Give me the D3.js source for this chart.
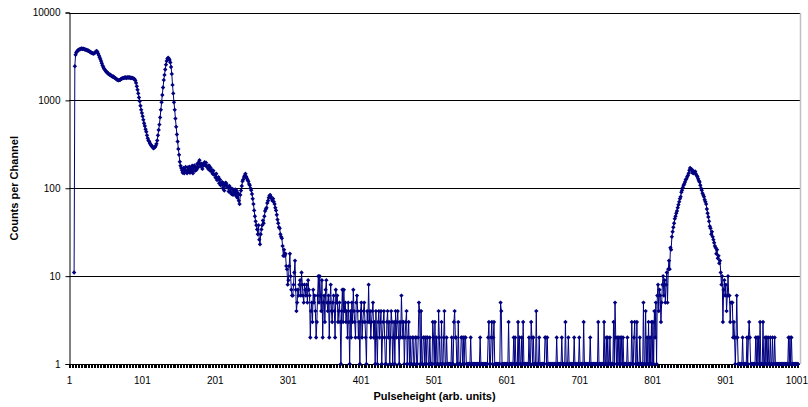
<!DOCTYPE html>
<html>
<head>
<meta charset="utf-8">
<script src="https://cdn.jsdelivr.net/npm/d3@7"></script>
<style>
	body { margin: 0; background: #fff; }
	text { font-family: "Liberation Sans", Arial, sans-serif; }
</style>
</head>
<body>
<div id="chart"></div>
<script>
// counts per channel, 10 channels per row, each block starts at the channel in blockStarts
const counts1 = [
	null, null, null, null, null, null, null, 11, 2450, 3300,
	3500, 3600, 3700, 3750, 3800, 3820, 3850, 3900, 3880, 3850,
	3870, 3820, 3780, 3800, 3740, 3700, 3720, 3650, 3600, 3580,
	3500, 3480, 3450, 3420, 3400, 3450, 3520, 3600, 3650, 3550,
	3400, 3250, 3100, 2950, 2800, 2650, 2500, 2400, 2300, 2250,
	2180, 2120, 2100, 2050, 2000, 1980, 1950, 1960, 1900, 1880,
	1850, 1870, 1820, 1800, 1780, 1750, 1720, 1700, 1690, 1710,
	1700, 1740, 1760, 1780, 1800, 1790, 1820, 1810, 1830, 1800,
	1820, 1840, 1810, 1830, 1800, 1820, 1790, 1800, 1780, 1760,
	1740, 1680, 1580, 1450, 1320, 1200, 1080, 980, 870, 780
];
const counts101 = [
	720, 660, 600, 550, 510, 470, 440, 400, 370, 350,
	340, 325, 315, 305, 300, 290, 285, 290, 295, 305,
	320, 350, 400, 460, 530, 640, 780, 950, 1150, 1400,
	1700, 1950, 2250, 2550, 2800, 2980, 3050, 2980, 2880, 2700,
	2400, 2000, 1500, 1200, 950, 780, 620, 500, 410, 340,
	280, 240, 200, 180, 170, 160, 150, 170, 148, 162,
	175, 155, 148, 172, 158, 176, 150, 168, 156, 180,
	148, 172, 182, 158, 174, 162, 190, 172, 198, 208,
	186, 178, 190, 166, 180, 192, 198, 182, 195, 176,
	178, 166, 182, 160, 172, 156, 162, 146, 158, 142
];
const counts201 = [
	144, 132, 146, 124, 128, 134, 114, 126, 108, 112,
	118, 100, 114, 94, 108, 116, 112, 102, 104, 92,
	106, 90, 100, 86, 98, 84, 96, 88, 97, 82,
	94, 78, 88, 72, 66, 84, 94, 106, 120, 126,
	134, 140, 146, 136, 130, 124, 120, 112, 108, 100,
	95, 86, 76, 66, 56, 48, 42, 38, 34, 30,
	38, 26, 23, 30, 34, 38, 43, 40, 48, 55,
	58, 60, 68, 72, 78, 82, 84, 80, 76, 72,
	76, 70, 66, 60, 56, 50, 44, 40, 36, 35,
	30, 28, 27, 22, 17, 20, 17, 18, 13, 12
];
const counts301 = [
	8, 9, 13, 18, 10, 7, 6, 6, 8, 11,
	15, 7, 4, 5, 7, 6, 8, 9, 6, 11,
	8, 6, 5, 8, 7, 6, 8, 5, 9, 7,
	6, 2, 4, 5, 3, 7, 5, 6, 4, 2,
	3, 6, 10, 5, 10, 6, 4, 9, 2, 5,
	6, 3, 7, 9, 5, 4, 6, 2, 5, 8,
	4, 3, 5, 6, 4, 2, 7, 5, 6, 3,
	4, 5, 3, 0, 4, 7, 3, 7, 4, 5,
	3, 4, 2, 5, 3, 0, 4, 2, 5, 3,
	7, 4, 3, 2, 5, 6, 4, 2, 3, 0
];
const counts401 = [
	4, 5, 2, 3, 4, 5, 3, 2, 0, 4,
	3, 8, 3, 4, 2, 3, 4, 5, 2, 3,
	0, 4, 2, 0, 3, 4, 2, 3, 4, 0,
	2, 3, 4, 2, 0, 0, 3, 4, 2, 3,
	0, 2, 4, 3, 0, 2, 3, 0, 4, 2,
	3, 4, 2, 0, 3, 2, 6, 3, 2, 3,
	0, 2, 3, 4, 0, 2, 3, 0, 2, 0,
	0, 2, 2, 0, 0, 2, 2, 0, 0, 2,
	5, 4, 0, 4, 0, 0, 2, 2, 0, 2,
	0, 2, 2, 0, 0, 2, 0, 0, 0, 3
];
const counts501 = [
	2, 0, 3, 0, 2, 0, 0, 4, 2, 0,
	0, 3, 0, 0, 2, 4, 0, 0, 2, 0,
	0, 0, 0, 0, 0, 2, 0, 0, 3, 4,
	2, 2, 0, 0, 3, 0, 0, 0, 2, 2,
	0, 2, 0, 2, 2, 0, 0, 0, 0, 0,
	0, 2, 0, 0, 0, 0, 0, 0, 0, 0,
	0, 0, 0, 0, 2, 0, 0, 0, 0, 0,
	0, 0, 0, 0, 0, 2, 3, 0, 0, 2,
	3, 0, 2, 3, 0, 0, 0, 0, 0, 0,
	0, 0, 5, 4, 0, 0, 0, 0, 0, 0
];
const counts601 = [
	0, 0, 0, 3, 0, 0, 0, 0, 0, 0,
	2, 0, 2, 0, 0, 0, 3, 0, 2, 0,
	0, 2, 0, 3, 0, 0, 0, 0, 0, 0,
	0, 2, 0, 0, 3, 2, 0, 2, 0, 0,
	0, 4, 0, 0, 0, 2, 0, 0, 0, 0,
	0, 0, 0, 2, 2, 0, 2, 0, 0, 0,
	0, 0, 0, 0, 0, 0, 0, 0, 0, 2,
	0, 0, 0, 0, 0, 0, 2, 0, 0, 0,
	0, 3, 0, 0, 0, 2, 0, 0, 0, 0,
	0, 0, 0, 2, 0, 0, 0, 0, 0, 0
];
const counts701 = [
	2, 0, 0, 0, 0, 0, 3, 0, 0, 0,
	0, 0, 0, 0, 0, 2, 0, 0, 0, 0,
	0, 0, 0, 0, 0, 0, 3, 0, 0, 0,
	0, 0, 0, 0, 3, 0, 0, 2, 0, 2,
	0, 0, 2, 0, 0, 0, 0, 3, 0, 5,
	2, 0, 2, 0, 2, 0, 2, 0, 2, 0,
	2, 0, 0, 0, 0, 0, 2, 0, 0, 0,
	0, 0, 3, 0, 0, 2, 3, 0, 0, 3,
	0, 0, 0, 2, 0, 0, 0, 0, 5, 0,
	0, 4, 0, 2, 0, 3, 0, 2, 0, 3
];
const counts801 = [
	0, 3, 0, 4, 2, 5, 0, 6, 8, 4,
	7, 6, 3, 5, 8, 10, 6, 9, 5, 8,
	11, 5, 12, 15, 12, 21, 20, 28, 32, 36,
	40, 45, 48, 52, 55, 60, 65, 70, 76, 80,
	90, 95, 102, 108, 112, 118, 125, 128, 135, 140,
	148, 160, 170, 162, 165, 150, 158, 148, 152, 155,
	145, 140, 135, 128, 122, 118, 108, 100, 95, 88,
	84, 80, 74, 70, 66, 58, 52, 47, 42, 37,
	35, 30, 32, 28, 26, 24, 22, 21, 18, 20,
	16, 17, 14, 15, 11, 8, 10, 3, 7, 9
];
const counts901 = [
	6, 8, 4, 6, 10, 6, 6, 3, 5, 5,
	5, 2, 3, 2, 0, 2, 6, 2, 0, 0,
	0, 0, 0, 0, 2, 0, 0, 0, 0, 0,
	2, 0, 2, 3, 2, 0, 0, 0, 0, 0,
	0, 0, 2, 0, 2, 0, 2, 0, 3, 0,
	0, 0, 3, 0, 0, 2, 0, 2, 0, 2,
	0, 0, 2, 0, 0, 2, 0, 0, 2, 0,
	0, 0, 0, 0, 0, 0, 0, 0, 0, 0,
	0, 0, 0, 0, 0, 0, 0, 2, 0, 2,
	0, 2, 0, 0, 0, 0, 0, 0, 0, 0,
	0
];

const blocks = [counts1, counts101, counts201, counts301, counts401, counts501, counts601, counts701, counts801, counts901];
const blockStarts = [1, 101, 201, 301, 401, 501, 601, 701, 801, 901];

const xTickLabels = [1, 101, 201, 301, 401, 501, 601, 701, 801, 901, 1001];
const yTickLabels = [1, 10, 100, 1000, 10000];

const xTitle = 'Pulseheight (arb. units)';
const yTitle = 'Counts per Channel';

const data = [];
blocks.forEach((b, i) => {
	b.forEach((v, j) => data.push({ ch: blockStarts[i] + j, v: v }));
});

const width = 808;
const height = 407;
const plotL = 69, plotR = 800, plotT = 12.5, plotB = 364;
const lineColor = '#000080';

const svg = d3.select('#chart')
	.append('svg')
	.attr('width', width)
	.attr('height', height);

const x = d3.scaleLinear()
	.domain([1, 1001])
	.range([plotL, 798]);

const y = d3.scaleLog()
	.domain([1, 10000])
	.range([plotB, plotT]);

// horizontal grid lines
svg.append('g')
	.selectAll('line')
	.data(yTickLabels.slice(1))
	.join('line')
	.attr('x1', plotL)
	.attr('x2', plotR)
	.attr('y1', d => Math.round(y(d)) + 0.5)
	.attr('y2', d => Math.round(y(d)) + 0.5)
	.attr('stroke', '#000')
	.attr('stroke-width', 1);

// plot area right border
svg.append('line')
	.attr('x1', plotR + 0.5)
	.attr('x2', plotR + 0.5)
	.attr('y1', Math.round(plotT))
	.attr('y2', plotB)
	.attr('stroke', '#c0c0c0')
	.attr('stroke-width', 1.5);

// channel ticks on the category axis
const tickChannels = data.map(d => d.ch).filter(c => c % 2 === 1);
const xTicks = svg.append('g')
	.attr('transform', `translate(0,${plotB + 0.5})`)
	.call(d3.axisBottom(x).tickValues(tickChannels).tickSize(3).tickFormat(''));
xTicks.select('.domain').remove();
xTicks.selectAll('line').attr('stroke', '#000').attr('shape-rendering', 'crispEdges');

const xAxis = svg.append('g')
	.attr('transform', `translate(0,${plotB + 0.5})`)
	.call(d3.axisBottom(x).tickValues(xTickLabels).tickFormat(d3.format('d')).tickSize(0).tickPadding(12));
xAxis.select('.domain').attr('stroke', '#000').attr('d', `M${plotL},0H${plotR}`);
xAxis.selectAll('text').attr('font-size', 10).attr('fill', '#000');
// keep the last label inside the window
xAxis.selectAll('text').filter(d => d === 1001).attr('text-anchor', 'end').attr('dx', 9.5);

const yAxis = svg.append('g')
	.attr('transform', `translate(${plotL + 0.5},0)`)
	.call(d3.axisLeft(y).tickValues(yTickLabels).tickFormat(d3.format('d')).tickSize(4).tickPadding(5));
yAxis.select('.domain').attr('stroke', '#000');
yAxis.selectAll('line').attr('stroke', '#000');
yAxis.selectAll('text').attr('font-size', 10).attr('fill', '#000');

// spectrum line, zero counts drawn on the axis floor
const yv = v => y(Math.max(v, 1));
const line = d3.line()
	.defined(d => d.v != null)
	.x(d => x(d.ch))
	.y(d => yv(d.v));

const pts = data.filter(d => d.v != null);

svg.append('path')
	.datum(data)
	.attr('d', line)
	.attr('fill', 'none')
	.attr('stroke', lineColor)
	.attr('stroke-width', 1);

const diamond = 'M0,-2.2L2.2,0L0,2.2L-2.2,0Z';
svg.append('g')
	.selectAll('path')
	.data(pts)
	.join('path')
	.attr('d', diamond)
	.attr('transform', d => `translate(${x(d.ch)},${yv(d.v)})`)
	.attr('fill', lineColor);

svg.append('text')
	.attr('x', (plotL + plotR) / 2)
	.attr('y', 400)
	.attr('text-anchor', 'middle')
	.attr('font-size', 11)
	.attr('font-weight', 'bold')
	.text(xTitle);

svg.append('text')
	.attr('transform', `translate(18,${(plotT + plotB) / 2}) rotate(-90)`)
	.attr('text-anchor', 'middle')
	.attr('font-size', 11)
	.attr('font-weight', 'bold')
	.text(yTitle);
</script>
</body>
</html>
